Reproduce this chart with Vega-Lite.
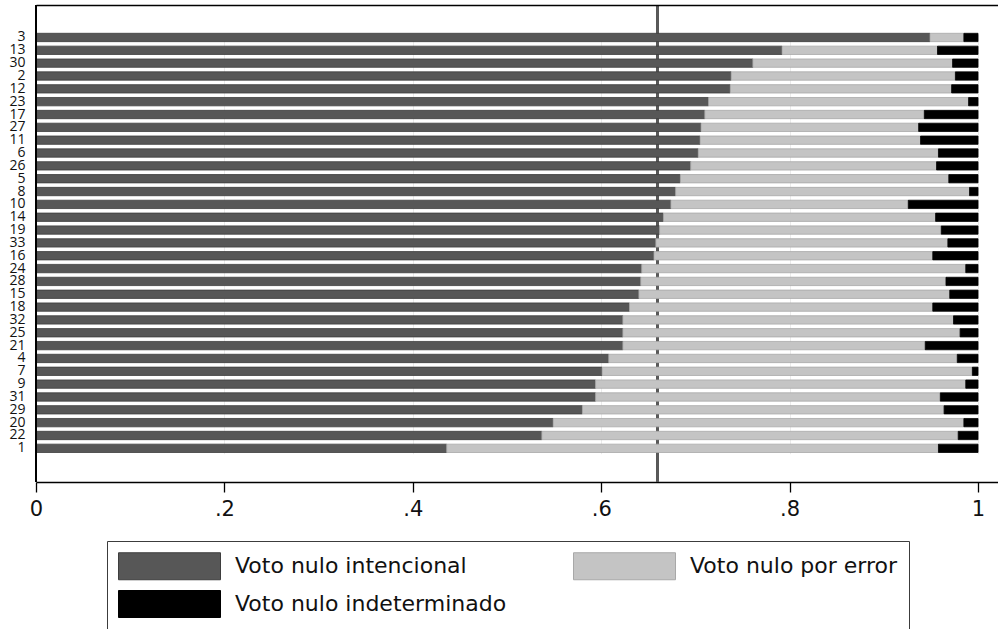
{
  "$schema": "https://vega.github.io/schema/vega-lite/v6.json",
  "width": 962,
  "height": 477,
  "autosize": {"type": "none"},
  "padding": {"left": 36, "top": 5, "right": 0, "bottom": 147},
  "background": "white",
  "config": {
    "font": "Open Sans",
    "view": {"stroke": null}
  },
  "data": {
    "values": [
      {"id": "3", "Voto nulo intencional": 0.949, "Voto nulo por error": 0.036, "Voto nulo indeterminado": 0.015},
      {"id": "13", "Voto nulo intencional": 0.792, "Voto nulo por error": 0.165, "Voto nulo indeterminado": 0.043},
      {"id": "30", "Voto nulo intencional": 0.761, "Voto nulo por error": 0.212, "Voto nulo indeterminado": 0.027},
      {"id": "2", "Voto nulo intencional": 0.738, "Voto nulo por error": 0.238, "Voto nulo indeterminado": 0.024},
      {"id": "12", "Voto nulo intencional": 0.737, "Voto nulo por error": 0.235, "Voto nulo indeterminado": 0.028},
      {"id": "23", "Voto nulo intencional": 0.714, "Voto nulo por error": 0.276, "Voto nulo indeterminado": 0.010},
      {"id": "17", "Voto nulo intencional": 0.710, "Voto nulo por error": 0.233, "Voto nulo indeterminado": 0.057},
      {"id": "27", "Voto nulo intencional": 0.706, "Voto nulo por error": 0.231, "Voto nulo indeterminado": 0.063},
      {"id": "11", "Voto nulo intencional": 0.705, "Voto nulo por error": 0.234, "Voto nulo indeterminado": 0.061},
      {"id": "6", "Voto nulo intencional": 0.703, "Voto nulo por error": 0.255, "Voto nulo indeterminado": 0.042},
      {"id": "26", "Voto nulo intencional": 0.695, "Voto nulo por error": 0.261, "Voto nulo indeterminado": 0.044},
      {"id": "5", "Voto nulo intencional": 0.684, "Voto nulo por error": 0.285, "Voto nulo indeterminado": 0.031},
      {"id": "8", "Voto nulo intencional": 0.679, "Voto nulo por error": 0.312, "Voto nulo indeterminado": 0.009},
      {"id": "10", "Voto nulo intencional": 0.674, "Voto nulo por error": 0.252, "Voto nulo indeterminado": 0.074},
      {"id": "14", "Voto nulo intencional": 0.666, "Voto nulo por error": 0.289, "Voto nulo indeterminado": 0.045},
      {"id": "19", "Voto nulo intencional": 0.662, "Voto nulo por error": 0.299, "Voto nulo indeterminado": 0.039},
      {"id": "33", "Voto nulo intencional": 0.658, "Voto nulo por error": 0.310, "Voto nulo indeterminado": 0.032},
      {"id": "16", "Voto nulo intencional": 0.656, "Voto nulo por error": 0.296, "Voto nulo indeterminado": 0.048},
      {"id": "24", "Voto nulo intencional": 0.643, "Voto nulo por error": 0.344, "Voto nulo indeterminado": 0.013},
      {"id": "28", "Voto nulo intencional": 0.642, "Voto nulo por error": 0.324, "Voto nulo indeterminado": 0.034},
      {"id": "15", "Voto nulo intencional": 0.640, "Voto nulo por error": 0.330, "Voto nulo indeterminado": 0.030},
      {"id": "18", "Voto nulo intencional": 0.630, "Voto nulo por error": 0.322, "Voto nulo indeterminado": 0.048},
      {"id": "32", "Voto nulo intencional": 0.623, "Voto nulo por error": 0.351, "Voto nulo indeterminado": 0.026},
      {"id": "25", "Voto nulo intencional": 0.623, "Voto nulo por error": 0.358, "Voto nulo indeterminado": 0.019},
      {"id": "21", "Voto nulo intencional": 0.623, "Voto nulo por error": 0.321, "Voto nulo indeterminado": 0.056},
      {"id": "4", "Voto nulo intencional": 0.608, "Voto nulo por error": 0.370, "Voto nulo indeterminado": 0.022},
      {"id": "7", "Voto nulo intencional": 0.601, "Voto nulo por error": 0.393, "Voto nulo indeterminado": 0.006},
      {"id": "9", "Voto nulo intencional": 0.594, "Voto nulo por error": 0.393, "Voto nulo indeterminado": 0.013},
      {"id": "31", "Voto nulo intencional": 0.594, "Voto nulo por error": 0.366, "Voto nulo indeterminado": 0.040},
      {"id": "29", "Voto nulo intencional": 0.580, "Voto nulo por error": 0.384, "Voto nulo indeterminado": 0.036},
      {"id": "20", "Voto nulo intencional": 0.549, "Voto nulo por error": 0.436, "Voto nulo indeterminado": 0.015},
      {"id": "22", "Voto nulo intencional": 0.537, "Voto nulo por error": 0.442, "Voto nulo indeterminado": 0.021},
      {"id": "1", "Voto nulo intencional": 0.436, "Voto nulo por error": 0.522, "Voto nulo indeterminado": 0.042}
    ]
  },
  "layer": [
    {
      "mark": {"type": "rule", "color": "#5a5a5a", "strokeWidth": 2},
      "encoding": {
        "x": {
          "datum": 0.66,
          "type": "quantitative",
          "scale": {"domain": [0, 1.0212], "nice": false, "zero": true},
          "axis": {"orient": "top", "labels": false, "ticks": false, "grid": false, "title": null, "domainColor": "#000000", "domainWidth": 1.3, "zindex": 1}
        }
      }
    },
    {
      "transform": [
        {"fold": ["Voto nulo intencional", "Voto nulo por error", "Voto nulo indeterminado"], "as": ["tipo", "valor"]},
        {"window": [{"op": "row_number", "as": "orden"}], "groupby": ["id"]}
      ],
      "mark": {"type": "bar", "strokeWidth": 0.8},
      "encoding": {
        "y": {
          "field": "id",
          "type": "nominal",
          "sort": ["3","13","30","2","12","23","17","27","11","6","26","5","8","10","14","19","33","16","24","28","15","18","32","25","21","4","7","9","31","29","20","22","1"],
          "scale": {"paddingInner": 0.35, "paddingOuter": 0, "range": [28.3, 447.5]},
          "axis": {"title": null, "ticks": false, "domain": false, "labelPadding": 11, "labelFontSize": 14, "labelColor": "#111111", "grid": false}
        },
        "x": {
          "field": "valor",
          "type": "quantitative",
          "stack": "zero",
          "scale": {"domain": [0, 1.0212], "nice": false, "zero": true},
          "axis": {
            "orient": "bottom",
            "title": null,
            "values": [0, 0.2, 0.4, 0.6, 0.8, 1],
            "labelExpr": "datum.value == 0 ? '0' : datum.value == 1 ? '1' : replace(format(datum.value, '.1f'), '0.', '.')",
            "labelFont": "DejaVu Sans",
            "labelFontSize": 21,
            "labelColor": "#111111",
            "labelFlush": false,
            "labelPadding": 6,
            "tickSize": 10,
            "tickColor": "#000000",
            "tickWidth": 1.3,
            "domainColor": "#000000",
            "domainWidth": 1.3,
            "grid": true,
            "gridColor": "#ebebeb",
            "gridWidth": 1
          }
        },
        "order": {"field": "orden", "type": "quantitative", "sort": "ascending"},
        "fill": {
          "field": "tipo",
          "type": "nominal",
          "scale": {"domain": ["Voto nulo intencional", "Voto nulo indeterminado", "Voto nulo por error"], "range": ["#575757", "#000000", "#c4c4c4"]},
          "legend": {
            "title": null,
            "orient": "none",
            "legendX": 71,
            "legendY": 536,
            "columns": 2,
            "columnPadding": 64,
            "rowPadding": 6,
            "padding": 11,
            "strokeColor": "#3c3c3c",
            "fillColor": "#ffffff",
            "symbolType": "M-1,-1H6.556V1H-1Z",
            "symbolSize": 729,
            "symbolStrokeWidth": 1,
            "symbolOffset": 0,
            "labelOffset": 89,
            "labelFont": "DejaVu Sans",
            "labelFontSize": 22,
            "labelColor": "#111111",
            "labelLimit": 0
          }
        },
        "stroke": {
          "field": "tipo",
          "type": "nominal",
          "scale": {"domain": ["Voto nulo intencional", "Voto nulo indeterminado", "Voto nulo por error"], "range": ["#3e3e3e", "#000000", "#a8a8a8"]},
          "legend": null
        }
      }
    },
    {
      "mark": {"type": "rule", "color": "#000000", "strokeWidth": 1.3},
      "encoding": {
        "x": {"datum": 0, "type": "quantitative", "axis": null}
      }
    }
  ]
}
